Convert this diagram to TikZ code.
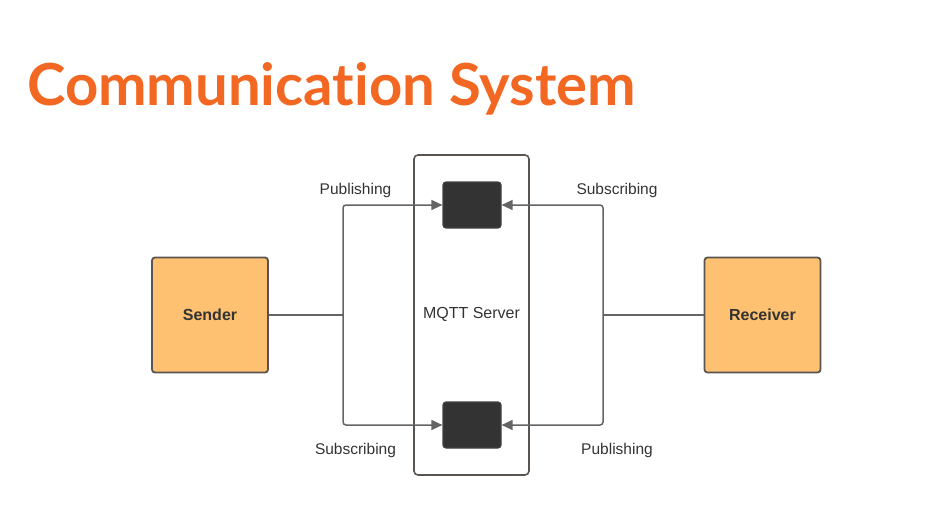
\documentclass[tikz,border=0pt]{standalone}
\usepackage{fontspec}
\setmainfont{Liberation Sans}
\newfontfamily\titlefont{Lato}[Ligatures={NoCommon}]
\usetikzlibrary{arrows.meta}
\definecolor{titleorange}{RGB}{242,103,34}
\definecolor{boxfill}{RGB}{253,193,113}
\definecolor{boxline}{RGB}{90,84,80}
\definecolor{darkbox}{RGB}{51,51,51}
\definecolor{connline}{RGB}{100,100,100}
\definecolor{labeltext}{RGB}{51,51,51}
\tikzset{
  actor/.style={draw=boxline, line width=1.8pt, fill=boxfill, rounded corners=3pt,
    minimum width=116pt, minimum height=115pt, inner sep=0pt,
    font=\fontsize{16}{18}\selectfont\bfseries, text=labeltext},
  server/.style={draw=boxline, line width=1.6pt, rounded corners=4pt,
    minimum width=115pt, minimum height=320pt, inner sep=0pt},
  queue/.style={draw=darkbox!80!gray, line width=1.2pt, fill=darkbox, rounded corners=3pt,
    minimum width=58pt, minimum height=46pt, inner sep=0pt},
  conn/.style={draw=connline, line width=1.5pt},
  tip/.style={-{Triangle[length=11pt,width=10pt]}},
  lbl/.style={font=\fontsize{15.5}{18}\selectfont, text=labeltext, inner sep=0pt}
}
\begin{document}
\begin{tikzpicture}[x=1pt,y=-1pt]
\useasboundingbox (0,0) rectangle (930,519);
\node[anchor=base west, inner sep=0pt, text=titleorange,
  font=\titlefont\bfseries\fontsize{58}{60}\selectfont] (title) at (27,106) {Communication System};

\node[actor] (sender) at (210,315) {Sender};
\node[actor] (receiver) at (762.5,315) {Receiver};
\node[server] (server) at (471.5,315) {};
\node[lbl, font=\fontsize{16}{18}\selectfont] (srvlabel) at (471.5,314) {MQTT Server};
\node[queue] (tq) at (472,205) {};
\node[queue] (bq) at (472,425) {};

\coordinate (jl) at (343,315);
\coordinate (jr) at (603,315);

\draw[conn, line width=1.3pt] (sender.east) -- (jl);
\draw[conn, tip, rounded corners=3pt] (jl) |- (tq.west);
\draw[conn, tip, rounded corners=3pt] (jl) |- (bq.west);
\draw[conn, line width=1.3pt] (receiver.west) -- (jr);
\draw[conn, tip, rounded corners=3pt] (jr) |- (tq.east);
\draw[conn, tip, rounded corners=3pt] (jr) |- (bq.east);

\node[lbl] (l1) at (355.5,190) {Publishing};
\node[lbl] (l2) at (355.5,450) {Subscribing};
\node[lbl] (l3) at (617,190) {Subscribing};
\node[lbl] (l4) at (617,450) {Publishing};
\end{tikzpicture}
\end{document}
